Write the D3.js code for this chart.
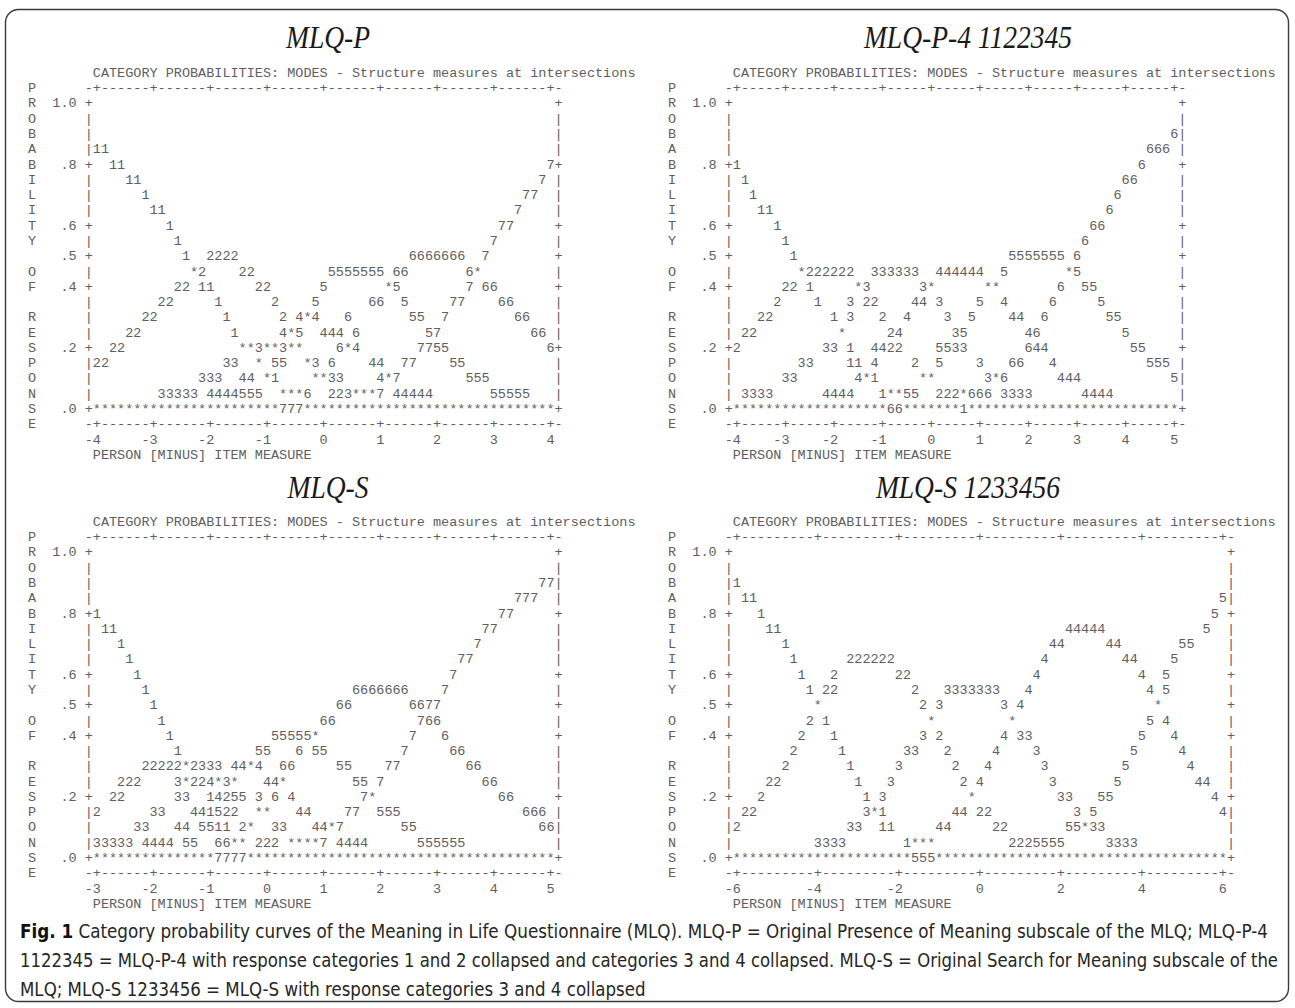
<!DOCTYPE html>
<html><head><meta charset="utf-8">
<script src="https://cdn.jsdelivr.net/npm/d3@7"></script>
<style>
html,body{margin:0;padding:0;background:#fff;}
svg{display:block;}
.mono{font-family:"Liberation Mono","DejaVu Sans Mono",monospace;fill:#5e5e5e;}
.ttl{font-family:"Liberation Serif","Times New Roman",serif;font-style:italic;fill:#1a1a1a;}
.cap{font-family:"Liberation Sans Narrow","DejaVu Sans Condensed","Liberation Sans",sans-serif;fill:#262626;}
</style></head>
<body>
<script>
// ---------- data ----------
const titles = ["MLQ-P", "MLQ-P-4 1122345", "MLQ-S", "MLQ-S 1233456"];
const headerText = "CATEGORY PROBABILITIES: MODES - Structure measures at intersections";
const xAxisTitle = "PERSON [MINUS] ITEM MEASURE";
const sideLetters = ["P","R","O","B","A","B","I","L","I","T","Y","","O","F","","R","E","S","P","O","N","S","E"];
const yTickLabels = [{p:1.0,t:"1.0"},{p:0.8,t:".8"},{p:0.6,t:".6"},{p:0.5,t:".5"},{p:0.4,t:".4"},{p:0.2,t:".2"},{p:0.0,t:".0"}];

const ticksP  = [-4,-3,-2,-1,0,1,2,3,4];
const ticksP4 = [-4,-3,-2,-1,0,1,2,3,4,5];
const ticksS  = [-3,-2,-1,0,1,2,3,4,5];
const ticksS6 = [-6,-4,-2,0,2,4,6];

// rows from probability 1.00 down to 0.05 (step .05): [column, characters]
const rowsP = [
 [], [], [],
 [[8,"11"]],
 [[10,"11"],[64,"7"]],
 [[12,"11"],[63,"7"]],
 [[14,"1"],[61,"77"]],
 [[15,"11"],[60,"7"]],
 [[17,"1"],[58,"77"]],
 [[18,"1"],[57,"7"]],
 [[19,"1"],[22,"2222"],[47,"6666666"],[56,"7"]],
 [[20,"*2"],[26,"22"],[37,"5555555"],[45,"66"],[54,"6*"]],
 [[18,"22"],[21,"11"],[28,"22"],[36,"5"],[44,"*5"],[54,"7"],[56,"66"]],
 [[16,"22"],[23,"1"],[30,"2"],[35,"5"],[42,"66"],[46,"5"],[52,"77"],[58,"66"]],
 [[14,"22"],[24,"1"],[31,"2"],[33,"4*4"],[39,"6"],[47,"55"],[51,"7"],[60,"66"]],
 [[12,"22"],[25,"1"],[31,"4*5"],[36,"444"],[40,"6"],[49,"57"],[62,"66"]],
 [[10,"22"],[26,"**3**3**"],[38,"6*4"],[48,"7755"],[64,"6"]],
 [[8,"22"],[24,"33"],[28,"*"],[30,"55"],[34,"*3"],[37,"6"],[42,"44"],[46,"77"],[52,"55"]],
 [[21,"333"],[26,"44"],[29,"*1"],[35,"**33"],[43,"4*7"],[54,"555"]],
 [[16,"33333"],[22,"4444555"],[31,"***6"],[37,"223***7"],[45,"44444"],[57,"55555"]]
];
const zeroP = [[31,"777"]];

const rowsP4 = [
 [], [],
 [[62,"6"]],
 [[59,"666"]],
 [[8,"1"],[58,"6"]],
 [[9,"1"],[56,"66"]],
 [[10,"1"],[55,"6"]],
 [[11,"11"],[54,"6"]],
 [[13,"1"],[52,"66"]],
 [[14,"1"],[51,"6"]],
 [[15,"1"],[42,"5555555"],[50,"6"]],
 [[16,"*222222"],[25,"333333"],[33,"444444"],[41,"5"],[49,"*5"]],
 [[14,"22"],[17,"1"],[23,"*3"],[31,"3*"],[39,"**"],[48,"6"],[51,"55"]],
 [[13,"2"],[18,"1"],[22,"3"],[24,"22"],[30,"44"],[33,"3"],[38,"5"],[41,"4"],[47,"6"],[53,"5"]],
 [[11,"22"],[20,"1"],[22,"3"],[26,"2"],[29,"4"],[34,"3"],[37,"5"],[42,"44"],[46,"6"],[54,"55"]],
 [[9,"22"],[21,"*"],[27,"24"],[35,"35"],[44,"46"],[56,"5"]],
 [[8,"2"],[19,"33"],[22,"1"],[25,"4422"],[33,"5533"],[44,"644"],[57,"55"]],
 [[16,"33"],[22,"11"],[25,"4"],[30,"2"],[33,"5"],[38,"3"],[42,"66"],[47,"4"],[59,"555"]],
 [[14,"33"],[23,"4*1"],[31,"**"],[39,"3*6"],[48,"444"],[62,"5"]],
 [[9,"3333"],[19,"4444"],[26,"1**55"],[33,"222*666"],[41,"3333"],[51,"4444"]]
];
const zeroP4 = [[27,"66"],[36,"1"]];

const rowsS = [
 [], [],
 [[63,"77"]],
 [[60,"777"]],
 [[8,"1"],[58,"77"]],
 [[9,"11"],[56,"77"]],
 [[11,"1"],[55,"7"]],
 [[12,"1"],[53,"77"]],
 [[13,"1"],[52,"7"]],
 [[14,"1"],[40,"6666666"],[51,"7"]],
 [[15,"1"],[38,"66"],[47,"6677"]],
 [[16,"1"],[36,"66"],[48,"766"]],
 [[17,"1"],[30,"55555*"],[47,"7"],[51,"6"]],
 [[18,"1"],[28,"55"],[33,"6"],[35,"55"],[46,"7"],[52,"66"]],
 [[14,"22222*2333"],[25,"44*4"],[31,"66"],[38,"55"],[44,"77"],[54,"66"]],
 [[11,"222"],[18,"3*224*3*"],[29,"44*"],[40,"55"],[43,"7"],[56,"66"]],
 [[10,"22"],[18,"33"],[22,"14255"],[28,"3"],[30,"6"],[32,"4"],[41,"7*"],[58,"66"]],
 [[8,"2"],[15,"33"],[20,"441522"],[28,"**"],[33,"44"],[39,"77"],[43,"555"],[61,"666"]],
 [[13,"33"],[18,"44"],[21,"5511"],[26,"2*"],[30,"33"],[35,"44*7"],[46,"55"],[63,"66"]],
 [[8,"33333"],[14,"4444"],[19,"55"],[23,"66**"],[28,"222"],[32,"****7"],[38,"4444"],[48,"555555"]]
];
const zeroS = [[23,"7777"]];

const rowsS6 = [
 [], [],
 [[8,"1"]],
 [[9,"11"],[68,"5"]],
 [[11,"1"],[67,"5"]],
 [[12,"11"],[49,"44444"],[66,"5"]],
 [[14,"1"],[47,"44"],[54,"44"],[63,"55"]],
 [[15,"1"],[22,"222222"],[46,"4"],[56,"44"],[62,"5"]],
 [[16,"1"],[20,"2"],[28,"22"],[45,"4"],[58,"4"],[61,"5"]],
 [[17,"1"],[19,"22"],[30,"2"],[34,"3333333"],[44,"4"],[59,"4"],[61,"5"]],
 [[18,"*"],[31,"2"],[33,"3"],[41,"3"],[43,"4"],[60,"*"]],
 [[17,"2"],[19,"1"],[32,"*"],[42,"*"],[59,"5"],[61,"4"]],
 [[16,"2"],[20,"1"],[31,"3"],[33,"2"],[41,"4"],[43,"33"],[58,"5"],[62,"4"]],
 [[15,"2"],[21,"1"],[29,"33"],[34,"2"],[40,"4"],[45,"3"],[57,"5"],[63,"4"]],
 [[14,"2"],[22,"1"],[28,"3"],[35,"2"],[39,"4"],[46,"3"],[56,"5"],[64,"4"]],
 [[12,"22"],[23,"1"],[27,"3"],[36,"2"],[38,"4"],[47,"3"],[55,"5"],[65,"44"]],
 [[11,"2"],[24,"1"],[26,"3"],[37,"*"],[48,"33"],[53,"55"],[67,"4"]],
 [[9,"22"],[24,"3*1"],[35,"44"],[38,"22"],[50,"3"],[52,"5"],[68,"4"]],
 [[8,"2"],[22,"33"],[26,"11"],[33,"44"],[40,"22"],[49,"55*33"]],
 [[18,"3333"],[29,"1***"],[42,"2225555"],[54,"3333"]]
];
const zeroS6 = [[30,"555"]];

const captionLines = [
 [["Fig. 1",true],[" Category probability curves of the Meaning in Life Questionnaire (MLQ). MLQ-P = Original Presence of Meaning subscale of the MLQ; MLQ-P-4",false]],
 [["1122345 = MLQ-P-4 with response categories 1 and 2 collapsed and categories 3 and 4 collapsed. MLQ-S = Original Search for Meaning subscale of the",false]],
 [["MLQ; MLQ-S 1233456 = MLQ-S with response categories 3 and 4 collapsed",false]]
];

// ---------- layout ----------
const W = 1295, H = 1008;
const CW = 8.1, LH = 15.28, FS = CW / 0.6;
const panels = [
 {title:titles[0], ticks:ticksP,  step:7,  rows:rowsP,  zero:zeroP,  x0:28,  y0:72,  tx:328, ty:48},
 {title:titles[1], ticks:ticksP4, step:6,  rows:rowsP4, zero:zeroP4, x0:668, y0:72,  tx:968, ty:48},
 {title:titles[2], ticks:ticksS,  step:7,  rows:rowsS,  zero:zeroS,  x0:28,  y0:521, tx:328, ty:498},
 {title:titles[3], ticks:ticksS6, step:10, rows:rowsS6, zero:zeroS6, x0:668, y0:521, tx:968, ty:498}
];

const svg = d3.select("body").append("svg").attr("width", W).attr("height", H);
svg.append("rect").attr("width", W).attr("height", H).attr("fill", "#fff");
svg.append("rect").attr("x", 5.5).attr("y", 9.5).attr("width", 1283).attr("height", 992)
  .attr("rx", 13).attr("fill", "none").attr("stroke", "#3a3a3a").attr("stroke-width", 1.4);

function drawPanel(p) {
  const g = svg.append("g");
  const colX = d3.scaleLinear().domain([0, 1]).range([p.x0, p.x0 + CW]);
  const rowY = d3.scaleLinear().domain([0, 1]).range([p.y0, p.y0 + LH]);
  const probY = d3.scaleLinear().domain([1, 0]).range([rowY(2), rowY(22)]);
  const n = p.ticks.length;
  const lastTick = 8 + p.step * (n - 1);
  const rb = lastTick + 1;
  const logitCol = d3.scaleLinear().domain([p.ticks[0], p.ticks[n - 1]]).range([8, lastTick]);

  const lines = [];
  const blank = () => Array(rb + 70).fill(" ");
  const put = (arr, c, s) => { for (let i = 0; i < s.length; i++) arr[c + i] = s[i]; };

  let a = blank(); put(a, 8, headerText); lines.push({y: rowY(0), a});
  const axisStr = "-" + "+" + ("-".repeat(p.step - 1) + "+").repeat(n - 1) + "-";
  a = blank(); put(a, 0, sideLetters[0]); put(a, 7, axisStr); lines.push({y: rowY(1), a});
  a = blank(); put(a, 0, sideLetters[22]); put(a, 7, axisStr); lines.push({y: rowY(23), a});
  for (let i = 0; i <= 20; i++) {
    const pv = +(1 - 0.05 * i).toFixed(2);
    a = blank();
    put(a, 0, sideLetters[i + 1]);
    const lab = yTickLabels.find(d => Math.abs(d.p - pv) < 1e-6);
    const bc = lab ? "+" : "|";
    if (lab) put(a, 6 - lab.t.length, lab.t);
    a[7] = bc; a[rb] = bc;
    if (i === 20) {
      for (let c = 8; c < rb; c++) a[c] = "*";
      p.zero.forEach(([c, s]) => put(a, c, s));
    } else {
      p.rows[i].forEach(([c, s]) => put(a, c, s));
    }
    lines.push({y: probY(pv), a});
  }
  a = blank();
  p.ticks.forEach(v => { const s = String(v); const c = Math.round(logitCol(v)); put(a, c - s.length + 1, s); });
  lines.push({y: rowY(24), a});
  a = blank(); put(a, 8, xAxisTitle); lines.push({y: rowY(25), a});

  lines.forEach(L => {
    let c = 0;
    while (c < L.a.length) {
      if (L.a[c] === " ") { c++; continue; }
      let e = c; while (e < L.a.length && L.a[e] !== " ") e++;
      const s = L.a.slice(c, e).join("");
      g.append("text").attr("class", "mono").attr("x", colX(c)).attr("y", L.y).attr("dy", "0.36em")
        .attr("font-size", FS).attr("textLength", s.length * CW).attr("lengthAdjust", "spacingAndGlyphs").text(s);
      c = e;
    }
  });

  const t = svg.append("text").attr("class", "ttl").attr("x", p.tx).attr("y", p.ty).attr("text-anchor", "middle")
    .attr("font-size", 32).text(p.title);
  const nat = t.node().getComputedTextLength();
  t.attr("textLength", nat * 0.86).attr("lengthAdjust", "spacingAndGlyphs");
}
panels.forEach(drawPanel);

// caption: lines 1 and 2 fill the measured widths, line 3 uses the same squeeze
const capY = [938, 967, 996];
const capTargets = [1268, 1278, null];
const capNodes = captionLines.map((parts, i) => {
  const t = svg.append("text").attr("class", "cap").attr("x", 20).attr("y", capY[i]).attr("font-size", 19.5);
  parts.forEach(([s, b]) => t.append("tspan").attr("font-weight", b ? "bold" : "normal").attr("fill", b ? "#111" : null).text(s));
  return t;
});
const ratios = [];
capNodes.forEach((t, i) => {
  if (capTargets[i] != null) {
    const nat = t.node().getComputedTextLength();
    ratios.push((capTargets[i] - 20) / nat);
    t.attr("textLength", capTargets[i] - 20).attr("lengthAdjust", "spacingAndGlyphs");
  }
});
const sq = d3.mean(ratios);
capNodes.forEach((t, i) => {
  if (capTargets[i] == null) {
    const nat = t.node().getComputedTextLength();
    t.attr("textLength", nat * sq).attr("lengthAdjust", "spacingAndGlyphs");
  }
});
</script>
</body></html>
